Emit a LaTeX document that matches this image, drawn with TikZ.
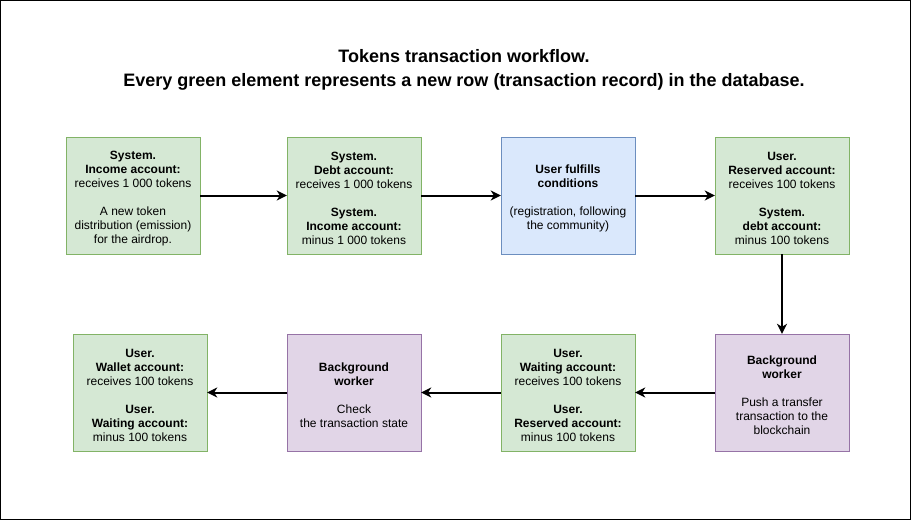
\documentclass[tikz,border=0pt]{standalone}
\usepackage{fontspec}
\setmainfont{Liberation Sans}
\usetikzlibrary{arrows.meta}
\definecolor{gfill}{HTML}{D5E8D4}\definecolor{gdraw}{HTML}{82B366}
\definecolor{bfill}{HTML}{DAE8FC}\definecolor{bdraw}{HTML}{6C8EBF}
\definecolor{pfill}{HTML}{E1D5E7}\definecolor{pdraw}{HTML}{9673A6}
\newcommand{\tstrut}{\rule{0pt}{14pt}}
\tikzset{
  box/.style={rectangle, minimum width=134pt, minimum height=117pt, inner sep=0pt, align=center, font=\fontsize{12}{14}\selectfont},
  green/.style={box, fill=gfill, draw=gdraw},
  blue/.style={box, fill=bfill, draw=bdraw},
  purple/.style={box, fill=pfill, draw=pdraw},
  conn/.style={line width=2pt, -{Stealth[length=10pt,width=10pt,inset=3pt]}},
}
\begin{document}
\begin{tikzpicture}[x=1pt,y=-1pt]
\useasboundingbox (0,0) rectangle (911,520);
\draw[line width=1pt] (0.5,0.5) rectangle (910.5,519.5);
\node[font=\bfseries\fontsize{18}{24}\selectfont, align=center] (title) at (464,70) {Tokens transaction workflow.\\Every green element represents a new row (transaction record) in the database.};
\node[green] (a) at (133,195.5) {\tstrut\textbf{System.}\\\textbf{Income account:}\\receives 1 000 tokens\\[14pt]A new token\\distribution (emission)\\for the airdrop.};
\node[green] (b) at (354,195.5) {\tstrut\textbf{System.}\\\textbf{Debt account:}\\receives 1 000 tokens\\[14pt]\textbf{System.}\\\textbf{Income account:}\\minus 1 000 tokens};
\node[blue] (c) at (568,195.5) {\tstrut\textbf{User fulfills}\\\textbf{conditions}\\[14pt](registration, following\\the community)};
\node[green] (d) at (782,195.5) {\tstrut\textbf{User.}\\\textbf{Reserved account:}\\receives 100 tokens\\[14pt]\textbf{System.}\\\textbf{debt account:}\\minus 100 tokens};
\node[purple] (e) at (782,392.5) {\tstrut\textbf{Background}\\\textbf{worker}\\[14pt]Push a transfer\\transaction to the\\blockchain};
\node[green] (f) at (568,392.5) {\tstrut\textbf{User.}\\\textbf{Waiting account:}\\receives 100 tokens\\[14pt]\textbf{User.}\\\textbf{Reserved account:}\\minus 100 tokens};
\node[purple] (g) at (354,392.5) {\tstrut\textbf{Background}\\\textbf{worker}\\[14pt]Check\\the transaction state};
\node[green] (h) at (140,392.5) {\tstrut\textbf{User.}\\\textbf{Wallet account:}\\receives 100 tokens\\[14pt]\textbf{User.}\\\textbf{Waiting account:}\\minus 100 tokens};
\draw[conn] (a) -- (b);
\draw[conn] (b) -- (c);
\draw[conn] (c) -- (d);
\draw[conn] (d) -- (e);
\draw[conn] (e) -- (f);
\draw[conn] (f) -- (g);
\draw[conn] (g) -- (h);
\end{tikzpicture}
\end{document}
